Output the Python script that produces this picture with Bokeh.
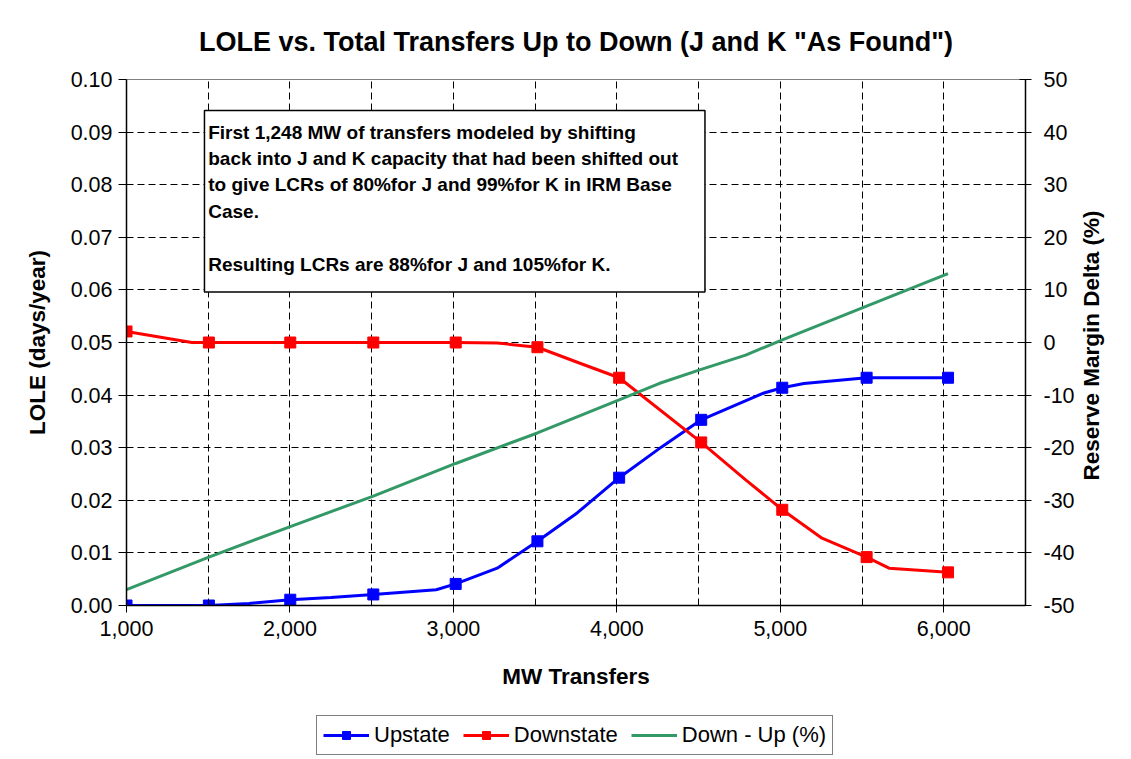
import math
from bokeh.plotting import figure
from bokeh.layouts import column
from bokeh.models import (Range1d, LinearAxis, FixedTicker, NumeralTickFormatter,
                          Legend, LegendItem, BoxAnnotation, Label, Title)
from bokeh.embed import file_html
from bokeh.resources import INLINE

# ---- data ----
mw = [1000, 1504, 2002, 2510, 3014, 3514, 4014, 4516, 5012, 5528, 6026]
upstate = [0.0, 0.0, 0.0011, 0.0021, 0.0041, 0.0122, 0.0243, 0.0353, 0.0414, 0.0433, 0.0433]
downstate = [0.0521, 0.0500, 0.0500, 0.0500, 0.0500, 0.0491, 0.0433, 0.0310, 0.0182, 0.0092, 0.0063]

# drawn (smoothed) line paths
up_path_x = [1000, 1504, 1750, 2002, 2250, 2510, 2895, 3014, 3268, 3514, 3757, 4014, 4276, 4516, 4900, 5012, 5144, 5528, 6026]
up_path_y = [0.0, 0.0, 0.0004, 0.0011, 0.0015, 0.0021, 0.0030, 0.0041, 0.0071, 0.0122, 0.0176, 0.0243, 0.0302, 0.0353, 0.0404, 0.0414, 0.0422, 0.0433, 0.0433]
down_path_x = [1000, 1400, 1504, 2002, 2510, 3014, 3268, 3514, 3770, 4014, 4516, 4788, 5012, 5255, 5528, 5665, 6026]
down_path_y = [0.0521, 0.0500, 0.0500, 0.0500, 0.0500, 0.0500, 0.0499, 0.0491, 0.0461, 0.0433, 0.0310, 0.0239, 0.0182, 0.0128, 0.0092, 0.0071, 0.0063]
diff_x = [1000, 1504, 2002, 2510, 3014, 3514, 4014, 4258, 4516, 4788, 5012, 5528, 6026]
diff_pct = [-47.0, -40.8, -35.0, -29.2, -23.0, -17.2, -10.9, -7.8, -5.1, -2.4, 0.5, 6.9, 13.1]

x_labels = [1000, 2000, 3000, 4000, 5000, 6000]
x_grid = [1500, 2500, 3500, 4500, 5500, 6500]
lole_ticks = [i / 100 for i in range(0, 11)]
rm_ticks = list(range(-50, 51, 10))

note_lines = [
    "First 1,248 MW of transfers modeled by shifting",
    "back into J and K capacity that had been shifted out",
    "to give LCRs of 80%for J and 99%for K in IRM Base",
    "Case.",
    "",
    "Resulting LCRs are 88%for J and 105%for K.",
]

FONT = "Liberation Sans"
BLUE, RED, GREEN = "#0000FF", "#FF0000", "#339966"

p = figure(frame_width=899, frame_height=526, output_backend="svg", toolbar_location=None,
           x_range=Range1d(1000, 6500), y_range=Range1d(0, 0.10),
           min_border_left=126, min_border_right=103, min_border_top=79, min_border_bottom=104)
p.extra_y_ranges = {"rm": Range1d(-50, 50)}
p.background_fill_color = "white"
p.border_fill_color = "white"
p.outline_line_color = "#808080"
p.outline_line_width = 1

p.title = Title(text='LOLE vs. Total Transfers Up to Down (J and K "As Found")', align="center",
                text_font=FONT, text_font_size="27px", text_font_style="bold",
                text_color="black", standoff=46)

# x axis
xa = p.xaxis[0]
xa.ticker = FixedTicker(ticks=x_labels, minor_ticks=x_grid)
xa.formatter = NumeralTickFormatter(format="0,0")
xa.axis_label = "MW Transfers"
xa.major_tick_out = 7
xa.major_tick_in = 0
xa.minor_tick_in = 6
xa.minor_tick_out = 0

# left axis
ya = p.yaxis[0]
ya.ticker = FixedTicker(ticks=lole_ticks)
ya.formatter = NumeralTickFormatter(format="0.00")
ya.axis_label = "LOLE (days/year)"
ya.major_tick_out = 8
ya.major_tick_in = 0
ya.minor_tick_out = 0
ya.minor_tick_in = 0

# right axis (title reads bottom to top; leading no-break spaces centre it)
ra = LinearAxis(y_range_name="rm", ticker=FixedTicker(ticks=rm_ticks),
                formatter=NumeralTickFormatter(format="0"),
                axis_label="\u00a0" * 20 + "Reserve Margin Delta (%)")
ra.axis_label_orientation = math.pi / 2
ra.axis_label_align = "start"
ra.major_tick_out = 6
ra.major_tick_in = 6
ra.minor_tick_out = 0
ra.minor_tick_in = 0
p.add_layout(ra, "right")

for ax, stand in [(xa, 8), (ya, 6), (ra, 12)]:
    ax.axis_line_color = "black"
    ax.axis_line_width = 1.5
    ax.major_tick_line_color = "black"
    ax.minor_tick_line_color = "black"
    ax.major_label_text_font = FONT
    ax.major_label_text_font_size = "21.5px"
    ax.major_label_text_color = "black"
    ax.major_label_standoff = stand
    ax.axis_label_text_font = FONT
    ax.axis_label_text_font_size = "22.5px"
    ax.axis_label_text_font_style = "bold"
    ax.axis_label_text_color = "black"
xa.axis_label_standoff = 25
ya.axis_label_standoff = 18
ra.axis_label_standoff = 14

# grids
p.xgrid.ticker = FixedTicker(ticks=x_labels + x_grid)
p.xgrid.grid_line_color = "black"
p.xgrid.grid_line_dash = "7 4"
p.xgrid.grid_line_width = 1
p.ygrid.ticker = FixedTicker(ticks=lole_ticks[1:])
p.ygrid.grid_line_color = "black"
p.ygrid.grid_line_dash = "7 4"
p.ygrid.grid_line_width = 1

# note box
p.add_layout(BoxAnnotation(left=1477, right=4539, bottom=0.0596, top=0.0941,
                           fill_color="white", fill_alpha=1.0,
                           line_color="black", line_alpha=1.0, line_width=1.5, level="overlay"))
y0 = 0.0920
for i, t in enumerate(note_lines):
    if t:
        p.add_layout(Label(x=1500, y=y0 - i * 0.00503, text=t, text_font=FONT,
                           text_font_size="19px", text_font_style="bold",
                           text_color="black", text_baseline="top", text_align="left",
                           level="overlay"))

# series
l_up = p.line(up_path_x, up_path_y, line_color=BLUE, line_width=3)
m_up = p.scatter(mw, upstate, marker="square", size=11, fill_color=BLUE, line_color=BLUE)
l_dn = p.line(down_path_x, down_path_y, line_color=RED, line_width=3)
m_dn = p.scatter(mw, downstate, marker="square", size=11, fill_color=RED, line_color=RED)
l_df = p.line(diff_x, diff_pct, line_color=GREEN, line_width=3, y_range_name="rm")

# legend strip below the chart (its sample glyphs sit outside the visible range)
q = figure(width=1128, height=48, output_backend="svg", toolbar_location=None,
           x_range=Range1d(0, 1), y_range=Range1d(0, 1),
           x_axis_location=None, y_axis_location=None, min_border=0)
q.outline_line_color = None
q.xgrid.visible = False
q.ygrid.visible = False
q.background_fill_color = "white"
q.border_fill_color = "white"
off = [-5, -6]
g_up_l = q.line(off, off, line_color=BLUE, line_width=3)
g_up_m = q.scatter(off, off, marker="square", size=11, fill_color=BLUE, line_color=BLUE)
g_dn_l = q.line(off, off, line_color=RED, line_width=3)
g_dn_m = q.scatter(off, off, marker="square", size=11, fill_color=RED, line_color=RED)
g_df_l = q.line(off, off, line_color=GREEN, line_width=3)

legend = Legend(items=[
    LegendItem(label="Upstate", renderers=[g_up_l, g_up_m]),
    LegendItem(label="Downstate", renderers=[g_dn_l, g_dn_m]),
    LegendItem(label="Down - Up (%)", renderers=[g_df_l]),
], orientation="horizontal", location=(190, 2))
legend.label_text_font = FONT
legend.label_text_font_size = "22px"
legend.label_text_color = "black"
legend.glyph_width = 46
legend.glyph_height = 20
legend.label_standoff = 5
legend.spacing = 13
legend.padding = 6
legend.margin = 0
legend.border_line_color = "black"
legend.border_line_width = 1
legend.background_fill_alpha = 1.0
q.add_layout(legend, "center")

layout = column(p, q, spacing=0)
open("out.html", "w").write(file_html(layout, INLINE))
